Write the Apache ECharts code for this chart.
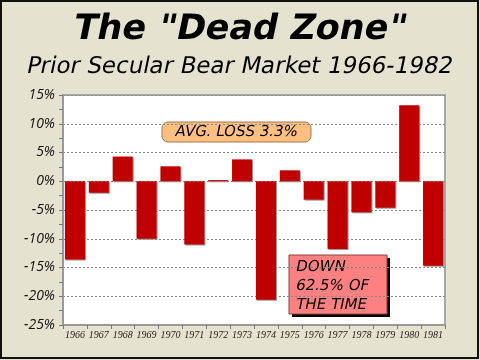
<!DOCTYPE html>
<html><head><meta charset="utf-8">
<script src="https://cdn.jsdelivr.net/npm/echarts@6/dist/echarts.min.js"></script>
<style>html,body{margin:0;padding:0;background:#e3e3cf;}#c{width:480px;height:360px;}</style>
</head><body><div id="c"></div>
<script>
const years = ['1966','1967','1968','1969','1970','1971','1972','1973','1974','1975','1976','1977','1978','1979','1980','1981'];
const returns = [-13.6,-2.0,4.3,-10.0,2.6,-11.0,0.2,3.8,-20.6,1.9,-3.2,-11.8,-5.4,-4.6,13.2,-14.7];
const titleText = 'The "Dead Zone"';
const subtitleText = 'Prior Secular Bear Market 1966-1982';
const avgNote = 'AVG. LOSS 3.3%';
const downNoteLines = ['DOWN', '62.5% OF', 'THE TIME'];

const chart = echarts.init(document.getElementById('c'), null, {renderer:'canvas'});
const F = '"DejaVu Sans", Verdana, sans-serif';
const SK = -0.2;
const downLineY = [12, 31, 50];
chart.setOption({
  backgroundColor: '#e3e3cf',
  animation: false,
  grid: {left:63, right:35, top:95, bottom:35, show:true, backgroundColor:'#fff', borderColor:'#a8a8a8', borderWidth:2},
  xAxis: {
    type:'category', data: years,
    axisLine:{onZero:false, lineStyle:{color:'#999', width:2}},
    axisTick:{show:true, alignWithLabel:false, length:4, lineStyle:{color:'#777'}},
    axisLabel:{interval:0, fontFamily:'"Liberation Serif", serif', fontStyle:'italic', fontSize:10, color:'#222', margin:5}
  },
  yAxis: {
    type:'value', min:-25, max:15, interval:5,
    axisLine:{show:true, lineStyle:{color:'#999', width:2}},
    axisTick:{show:true, length:4, lineStyle:{color:'#777'}},
    minorTick:{show:true, splitNumber:2, length:4, lineStyle:{color:'#777'}},
    splitLine:{show:true, lineStyle:{color:'#888', type:[2,2], width:1}},
    axisLabel:{formatter:'{value}%', fontFamily:'"Open Sans"', fontStyle:'italic', fontSize:14, color:'#111', margin:8}
  },
  series: [{
    type:'bar', data: returns, barCategoryGap:'16%',
    itemStyle:{color:'#c00000', shadowColor:'#999', shadowOffsetX:1, shadowOffsetY:1, shadowBlur:0}
  }],
  graphic: [
    {type:'rect', x:1, y:1, shape:{width:477, height:357}, style:{fill:'none', stroke:'#111', lineWidth:2}, z:100},
    {type:'text', x:240, y:30, skewX:SK, z:60, style:{text:titleText, fontFamily:F, fontWeight:'bold', fontSize:35, fill:'#000', align:'center', verticalAlign:'middle'}},
    {type:'text', x:240, y:67, skewX:SK, z:60, style:{text:subtitleText, fontFamily:F, fontSize:23, fill:'#000', align:'center', verticalAlign:'middle'}},
    {type:'group', x:162, y:122, z:50, children:[
      {type:'rect', shape:{x:0,y:0,width:149,height:20,r:6}, style:{fill:'#ffbf80', stroke:'#a07850', lineWidth:1}},
      {type:'text', x:74.5, y:10.5, skewX:SK, style:{text:avgNote, fontFamily:F, fontSize:15, fill:'#000', align:'center', verticalAlign:'middle'}}
    ]},
    {type:'group', x:289, y:255, z:50, children:[
      {type:'rect', shape:{x:3,y:3,width:98,height:59}, style:{fill:'#000'}},
      {type:'rect', shape:{x:0,y:0,width:98,height:59}, style:{fill:'#ff8080', stroke:'#904040', lineWidth:1}}
    ].concat(downNoteLines.map((t, i) => (
      {type:'text', x:7, y:downLineY[i], skewX:SK, style:{text:t, fontFamily:F, fontSize:15, fill:'#000', align:'left', verticalAlign:'middle'}}
    )))}
  ]
});
</script></body></html>
